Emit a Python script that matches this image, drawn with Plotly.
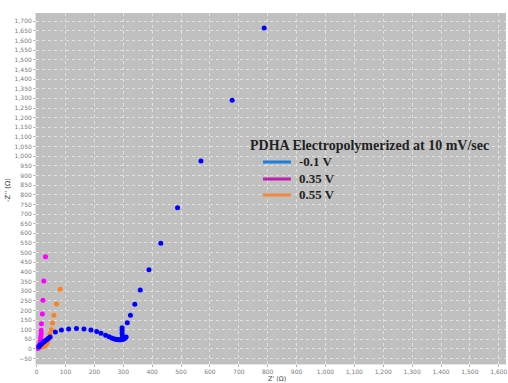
import plotly.graph_objects as go

# Nyquist data, Z' and -Z'' in ohms
blue_zr = [8, 12, 17, 21, 26, 30, 35, 40, 47, 65, 86, 111, 138, 164, 188, 208, 223, 239, 251,
           260, 267, 273, 278, 283, 287, 291, 295, 299, 303, 307, 310, 297, 296, 296, 296,
           314, 325, 340, 359, 389, 430, 488, 569, 677, 788]
blue_zi = [12, 19, 26, 32, 38, 43, 48, 54, 62, 88, 98, 104, 106, 104, 99, 90, 81, 71, 63,
           57, 53, 51, 49, 48, 48, 48, 49, 50, 53, 57, 62, 69, 81, 97, 110,
           136, 175, 232, 306, 411, 548, 733, 975, 1290, 1665]

mag_zr = [4, 5, 6, 7, 8, 10, 12, 13, 14, 15, 16, 16, 17, 20, 22, 25, 31]
mag_zi = [3, 6, 9, 13, 17, 22, 30, 40, 53, 66, 80, 97, 131, 182, 253, 353, 479]

org_zr = [3, 6, 10, 14, 18, 22, 26, 29, 32, 34, 36, 38, 40, 42, 44, 46, 51, 55, 60, 69, 82]
org_zi = [8, 8, 9, 10, 11, 13, 15, 18, 22, 27, 32, 38, 45, 52, 60, 76, 100, 135, 175, 233, 310]

legend_title = "PDHA Electropolymerized at 10 mV/sec"
legend_names = ["-0.1 V", "0.35 V", "0.55 V"]
marker_colors = ["#0000ff", "#ff00ff", "#ff8020"]
legend_colors = ["#1e7fd8", "#c01cb0", "#f5873a"]

W, H = 508, 383
ML, MR, MT, MB = 36, 0, 13, 19


def px_x(p):
    """Pixel column -> paper x."""
    return (p - ML) / (W - ML - MR)


def px_y(p):
    """Pixel row -> paper y."""
    return (H - MB - p) / (H - MT - MB)


fig = go.Figure()
for zr, zi, mc in zip([org_zr, mag_zr, blue_zr], [org_zi, mag_zi, blue_zi],
                      [marker_colors[2], marker_colors[1], marker_colors[0]]):
    fig.add_trace(go.Scatter(x=zr, y=zi, mode="markers",
                             marker=dict(color=mc, size=5, line=dict(width=0)),
                             showlegend=False, hoverinfo="x+y"))

tick_font = dict(family="DejaVu Sans", size=6, color="#7a7a7a")
grid_kw = dict(showgrid=True, gridcolor="rgba(235,235,235,0.75)", gridwidth=1, griddash="dot",
               zeroline=False, showline=True, linecolor="#e6e6e6", linewidth=1,
               ticks="outside", ticklen=2, tickcolor="#b0b0b0", tickfont=tick_font,
               tickformat=",d", ticklabeloverflow="allow")

annotations = [
    dict(text="Z' (Ω)", xref="paper", yref="paper", x=px_x(278), y=px_y(378.5),
         xanchor="center", yanchor="middle", showarrow=False,
         font=dict(family="DejaVu Sans", size=6.5, color="#444")),
    dict(text="-Z'' (Ω)", xref="paper", yref="paper", x=px_x(8), y=px_y(190),
         xanchor="center", yanchor="middle", showarrow=False, textangle=-90,
         font=dict(family="DejaVu Sans", size=7, color="#444")),
    dict(text="<b>" + legend_title + "</b>", xref="paper", yref="paper",
         x=px_x(249), y=px_y(145), xanchor="left", yanchor="middle", showarrow=False,
         font=dict(family="Liberation Serif", size=14, color="#222")),
]
shapes = []
item_rows = [161, 178, 194]
for name, lc, row in zip(legend_names, legend_colors, item_rows):
    shapes.append(dict(type="line", xref="paper", yref="paper",
                       x0=px_x(264), x1=px_x(292), y0=px_y(row + 1), y1=px_y(row + 1),
                       line=dict(color=lc, width=3)))
    annotations.append(dict(text="<b>" + name + "</b>", xref="paper", yref="paper",
                            x=px_x(298), y=px_y(row), xanchor="left", yanchor="middle",
                            showarrow=False,
                            font=dict(family="Liberation Serif", size=13, color="#222")))

fig.update_layout(
    width=W, height=H,
    margin=dict(l=ML, r=MR, t=MT, b=MB),
    paper_bgcolor="white", plot_bgcolor="#c0c0c0",
    showlegend=False,
    xaxis=dict(range=[-2, 1625], dtick=100, tick0=0, **grid_kw),
    yaxis=dict(range=[-78, 1743], dtick=50, tick0=0, **grid_kw),
    annotations=annotations,
    shapes=shapes,
)

fig.write_html("out.html")
